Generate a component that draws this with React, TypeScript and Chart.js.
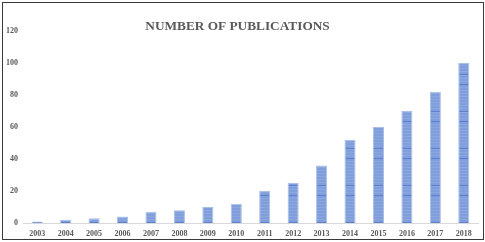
import React, { useEffect, useRef } from "react";
import { Chart, registerables } from "chart.js";

Chart.register(...registerables);

const years = ["2003","2004","2005","2006","2007","2008","2009","2010","2011","2012","2013","2014","2015","2016","2017","2018"];
const publications = [1, 2, 3, 4, 7, 8, 10, 12, 20, 25, 36, 52, 60, 70, 82, 100];
const yTicks = [0, 20, 40, 60, 80, 100, 120];
const chartTitle = "NUMBER OF PUBLICATIONS";

function makePattern(): CanvasPattern | string {
  const c = document.createElement("canvas");
  c.width = 8;
  c.height = 37;
  const g = c.getContext("2d");
  if (!g) return "#7f9edb";
  g.fillStyle = "#7f9edb";
  g.fillRect(0, 0, 8, 37);
  g.fillStyle = "rgba(255,255,255,0.10)";
  for (let y = 1; y < 37; y += 3) g.fillRect(0, y, 8, 1);
  g.fillStyle = "#5d80cb";
  g.fillRect(0, 0, 8, 1);
  g.fillRect(0, 10, 8, 1);
  const p = g.createPattern(c, "repeat");
  return p || "#7f9edb";
}

const titlePlugin = {
  id: "overlayTitle",
  afterDraw(chart: any) {
    const ctx = chart.ctx;
    ctx.save();
    ctx.font = "bold 13.3px 'Liberation Serif', 'Times New Roman', serif";
    ctx.fillStyle = "#595959";
    ctx.textAlign = "center";
    ctx.textBaseline = "middle";
    ctx.fillText(chartTitle, 237.5, 27);
    ctx.restore();
  },
};

export default function App() {
  const ref = useRef<HTMLCanvasElement>(null);
  useEffect(() => {
    document.body.style.margin = "0";
    const canvas = ref.current;
    if (!canvas) return;
    const chart = new Chart(canvas, {
      type: "bar",
      data: {
        labels: years,
        datasets: [
          {
            data: publications,
            backgroundColor: makePattern() as any,
            borderColor: "#a9bee8",
            borderWidth: { left: 1, right: 1, top: 1, bottom: 0 } as any,
            barPercentage: 0.39,
            categoryPercentage: 1,
          },
        ],
      },
      options: {
        responsive: false,
        animation: false,
        devicePixelRatio: 1,
        layout: { padding: { top: 31, right: 7, left: 0, bottom: 0 } },
        plugins: { legend: { display: false }, tooltip: { enabled: false }, title: { display: false } },
        scales: {
          x: {
            grid: { display: false, drawTicks: false },
            border: { display: true, color: "#d9d9d9", width: 1 },
            ticks: {
              color: "#595959",
              font: { family: "'Liberation Serif', 'Times New Roman', serif", size: 8, weight: "bold" },
              padding: 6,
              maxRotation: 0,
              autoSkip: false,
            },
            afterFit(scale: any) {
              scale.height = 19;
            },
          },
          y: {
            min: 0,
            max: 120,
            afterBuildTicks(scale: any) {
              scale.ticks = yTicks.map((v) => ({ value: v }));
            },
            grid: { display: false, drawTicks: false },
            border: { display: false },
            ticks: {
              color: "#595959",
              font: { family: "'Liberation Serif', 'Times New Roman', serif", size: 8, weight: "bold" },
              padding: 5,
            },
            afterFit(scale: any) {
              scale.width = 23;
            },
          },
        },
      },
      plugins: [titlePlugin],
    });
    return () => chart.destroy();
  }, []);

  return (
    <div style={{ position: "relative", width: 485, height: 242 }}>
      <canvas ref={ref} width={485} height={242} style={{ display: "block", width: 485, height: 242 }} />
      <div
        style={{
          position: "absolute",
          left: 2,
          top: 2,
          width: 480,
          height: 236,
          border: "1px solid #3a3a3a",
          pointerEvents: "none",
        }}
      />
    </div>
  );
}
